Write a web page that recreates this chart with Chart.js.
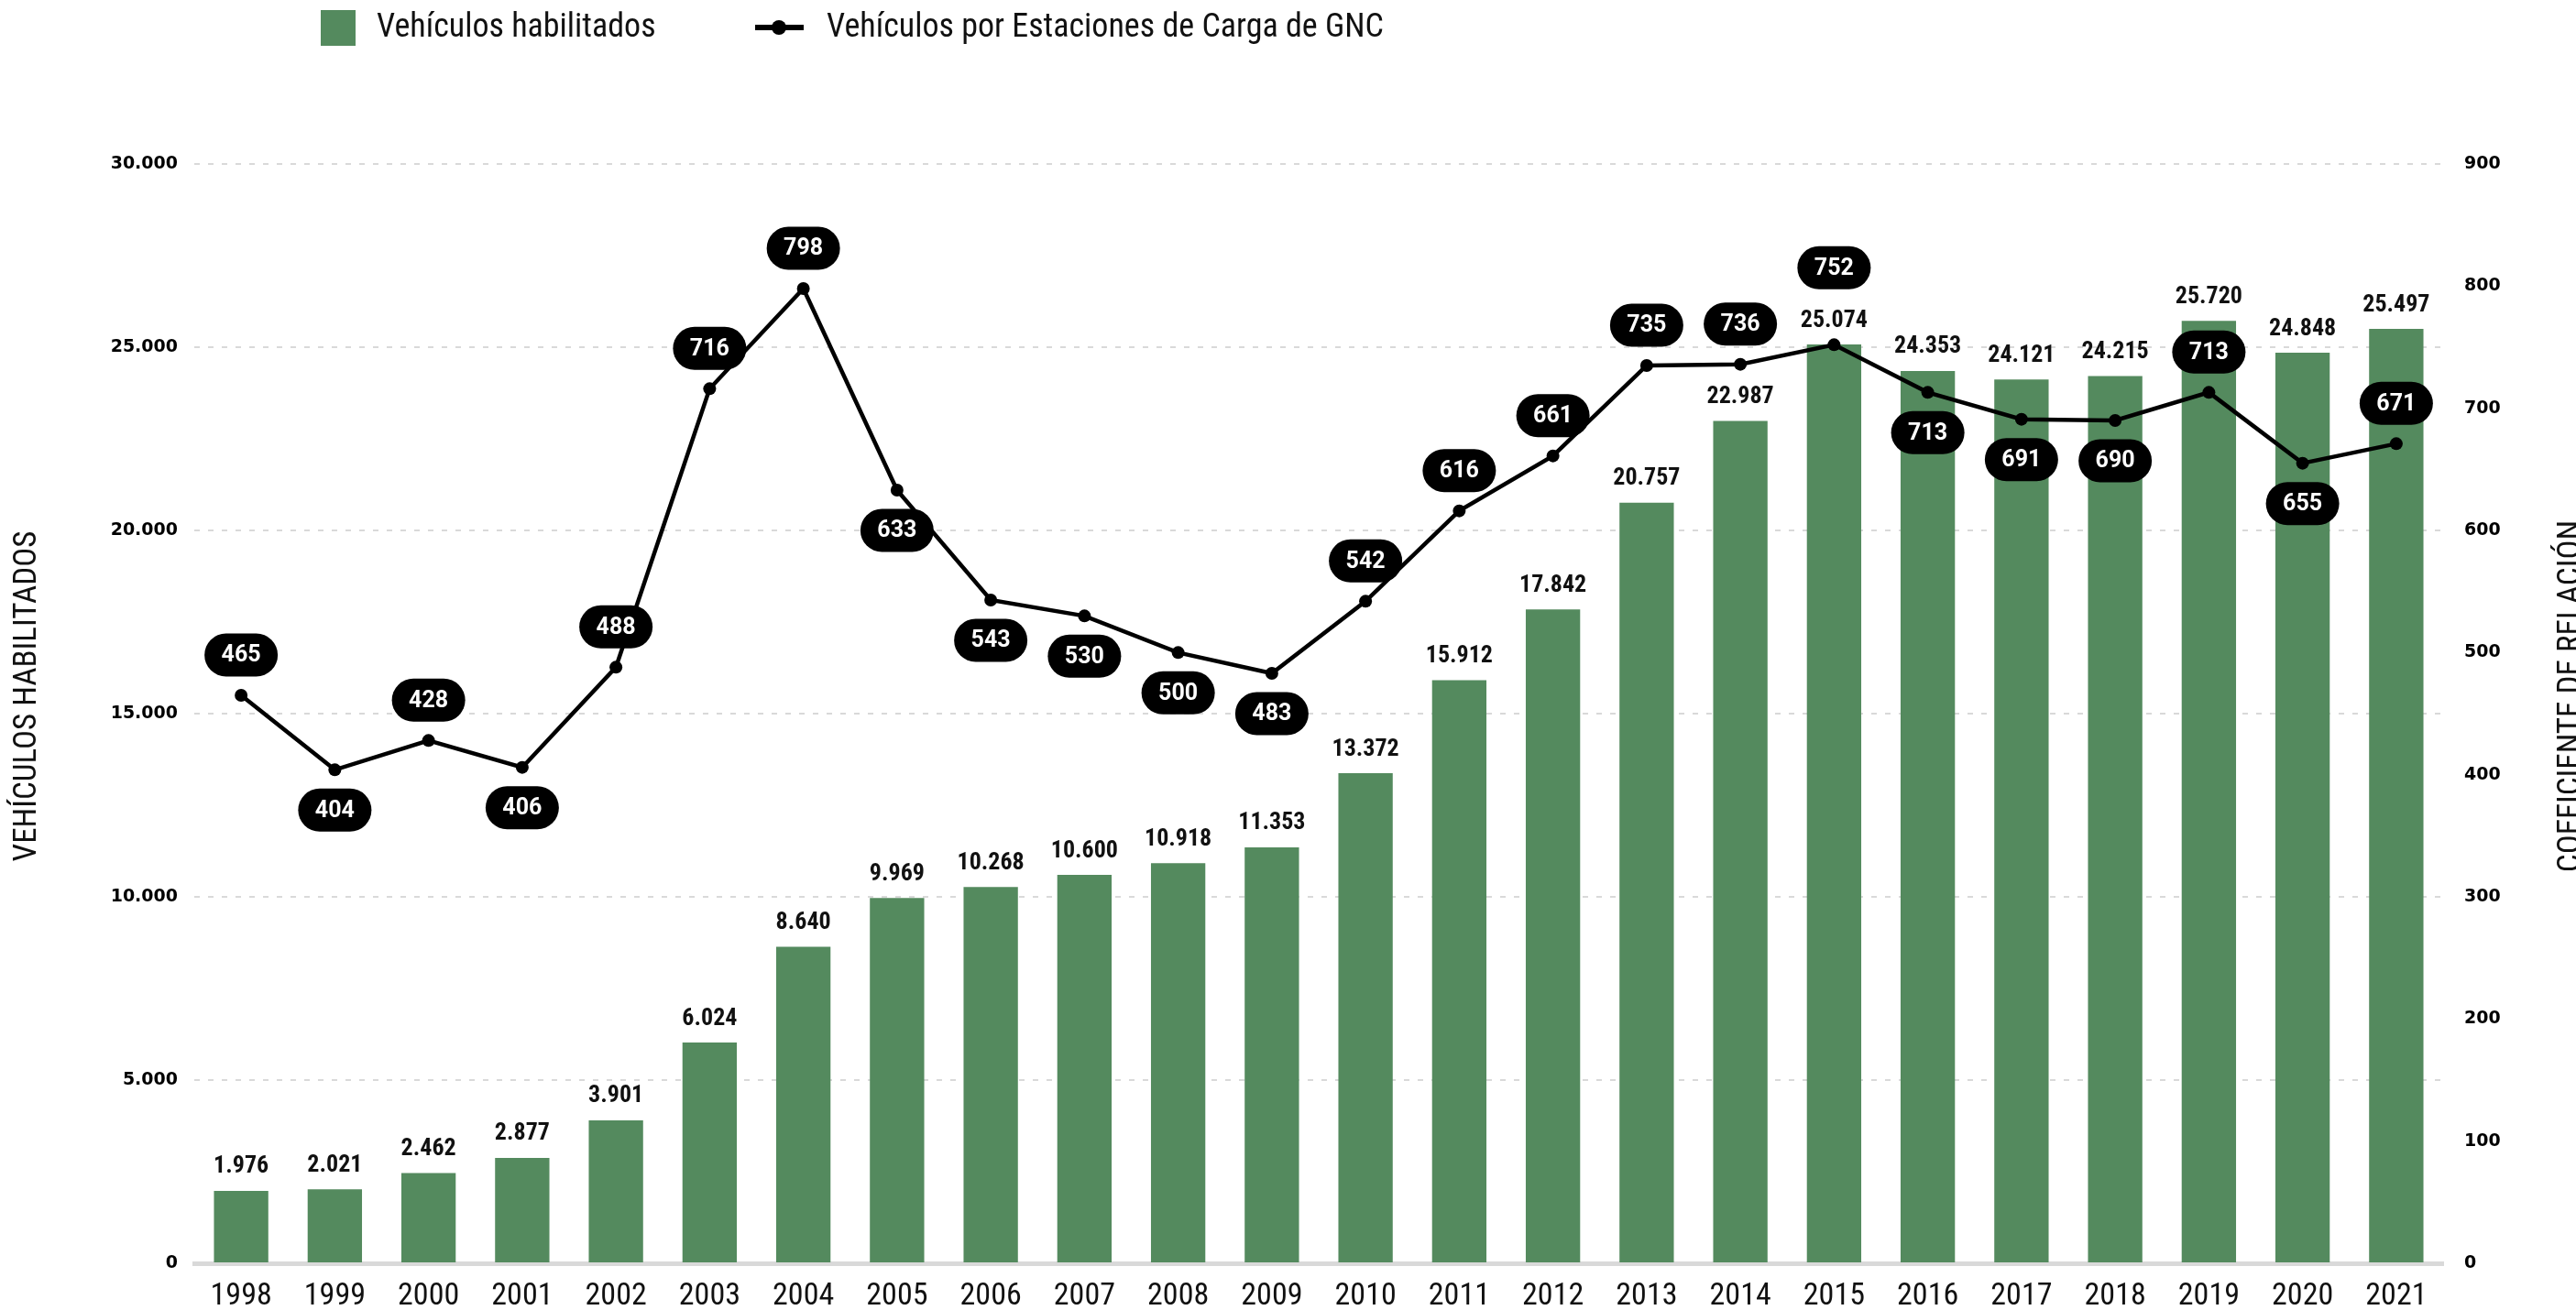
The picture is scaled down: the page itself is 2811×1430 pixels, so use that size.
<!DOCTYPE html>
<html>
<head>
<meta charset="utf-8">
<script src="https://cdn.jsdelivr.net/npm/chart.js@4.4.0/dist/chart.umd.min.js"></script>
<style>
  html, body { margin: 0; padding: 0; background: #fff; }
</style>
</head>
<body>
<canvas id="myChart" width="2811" height="1430"></canvas>
<script>
const years = ['1998', '1999', '2000', '2001', '2002', '2003', '2004', '2005', '2006', '2007', '2008', '2009',
    '2010', '2011', '2012', '2013', '2014', '2015', '2016', '2017', '2018', '2019', '2020', '2021'];
const vehicles = [1976, 2021, 2462, 2877, 3901, 6024, 8640, 9969, 10268, 10600, 10918, 11353,
    13372, 15912, 17842, 20757, 22987, 25074, 24353, 24121, 24215, 25720, 24848, 25497];
const ratio = [465, 404, 428, 406, 488, 716, 798, 633, 543, 530, 500, 483,
    542, 616, 661, 735, 736, 752, 713, 691, 690, 713, 655, 671];
const leftTicks = [0, 5000, 10000, 15000, 20000, 25000, 30000];
const rightTicks = [0, 100, 200, 300, 400, 500, 600, 700, 800, 900];

// pill label placement: negative = above the point, positive = below
const pillShift = [-44, 44, -44, 44, -44, -44, -44, 44, 44, 44, 44, 44,
    -44, -44, -44, -44, -44, -84, 44, 44, 44, -44, 44, -44];

const GREEN = '#548a5e';
const COND = '"Roboto Condensed", "Liberation Sans Narrow", "DejaVu Sans Condensed", sans-serif';

function fmt(v) {
    return String(v).replace(/\B(?=(\d{3})+(?!\d))/g, '.');
}

function roundRect(ctx, x, y, w, h, r) {
    ctx.beginPath();
    ctx.moveTo(x + r, y);
    ctx.lineTo(x + w - r, y);
    ctx.arc(x + w - r, y + r, r, -Math.PI / 2, Math.PI / 2);
    ctx.lineTo(x + r, y + h);
    ctx.arc(x + r, y + r, r, Math.PI / 2, Math.PI * 1.5);
    ctx.closePath();
}

// value labels on bars, drawn right after the bars (under the line)
const barLabels = {
    id: 'barLabels',
    afterDatasetDraw(chart, args) {
        if (args.index !== 0) return;
        const ctx = chart.ctx;
        ctx.save();
        ctx.font = 'bold 26px ' + COND;
        ctx.fillStyle = '#111';
        ctx.textAlign = 'center';
        ctx.textBaseline = 'middle';
        args.meta.data.forEach((bar, i) => {
            ctx.fillText(fmt(vehicles[i]), bar.x, bar.y - 26);
        });
        ctx.restore();
    }
};

// black pills for the line, legend and axis titles
const extras = {
    id: 'extras',
    afterDatasetsDraw(chart) {
        const ctx = chart.ctx;
        const meta = chart.getDatasetMeta(1);
        ctx.save();
        ctx.font = 'bold 25px Roboto, sans-serif';
        ctx.textAlign = 'center';
        ctx.textBaseline = 'middle';
        meta.data.forEach((pt, i) => {
            const cx = pt.x;
            const cy = pt.y + pillShift[i];
            const w = 80, h = 47;
            ctx.fillStyle = '#000';
            roundRect(ctx, cx - w / 2, cy - h / 2, w, h, h / 2);
            ctx.fill();
            ctx.fillStyle = '#fff';
            ctx.fillText(String(ratio[i]), cx, cy + 1);
        });
        ctx.restore();
    },
    afterDraw(chart) {
        const ctx = chart.ctx;
        ctx.save();
        // legend
        ctx.fillStyle = GREEN;
        ctx.fillRect(350, 11, 38, 39);
        ctx.fillStyle = '#111';
        ctx.font = '36px ' + COND;
        ctx.textBaseline = 'middle';
        ctx.textAlign = 'left';
        ctx.fillText('Vehículos habilitados', 411, 31);
        ctx.strokeStyle = '#000';
        ctx.lineWidth = 6;
        ctx.beginPath();
        ctx.moveTo(824, 30);
        ctx.lineTo(877, 30);
        ctx.stroke();
        ctx.beginPath();
        ctx.arc(850, 30, 8, 0, Math.PI * 2);
        ctx.fillStyle = '#000';
        ctx.fill();
        ctx.fillStyle = '#111';
        ctx.fillText('Vehículos por Estaciones de Carga de GNC', 902, 31);

        // axis titles
        const midY = 760;
        ctx.font = '35px ' + COND;
        ctx.textAlign = 'center';
        ctx.save();
        ctx.translate(30, midY);
        ctx.rotate(-Math.PI / 2);
        ctx.fillText('VEHÍCULOS HABILITADOS', 0, 0);
        ctx.restore();
        ctx.save();
        ctx.translate(2806, midY);
        ctx.rotate(-Math.PI / 2);
        ctx.fillText('COEFICIENTE DE RELACIÓN', 0, 0);
        ctx.restore();
        ctx.restore();
    }
};

const ctx = document.getElementById('myChart').getContext('2d');

const myChart = new Chart(ctx, {
    data: {
        labels: years,
        datasets: [
            {
                type: 'bar',
                label: 'Vehículos habilitados',
                data: vehicles,
                backgroundColor: GREEN,
                yAxisID: 'y',
                order: 1,
                barPercentage: 0.58,
                categoryPercentage: 1.0,
            },
            {
                type: 'line',
                label: 'Vehículos por Estaciones de Carga de GNC',
                data: ratio,
                borderColor: '#000',
                backgroundColor: '#000',
                borderWidth: 4.5,
                pointRadius: 7,
                pointBackgroundColor: '#000',
                pointBorderWidth: 0,
                tension: 0,
                yAxisID: 'y1',
                order: 0,
            },
        ],
    },
    options: {
        responsive: false,
        animation: false,
        layout: {
            padding: { top: 179, left: 60, right: 0, bottom: 0 },
        },
        plugins: {
            legend: { display: false },
            tooltip: { enabled: false },
        },
        scales: {
            x: {
                grid: { display: false },
                border: { display: true, color: '#d9d9d9', width: 5 },
                ticks: {
                    color: '#111',
                    font: { family: COND, size: 34 },
                    padding: 8,
                    maxRotation: 0,
                    autoSkip: false,
                },
                afterFit(scale) { scale.height = 51; },
            },
            y: {
                position: 'left',
                min: 0,
                max: leftTicks[leftTicks.length - 1],
                afterBuildTicks(scale) { scale.ticks = leftTicks.map(v => ({ value: v })); },
                grid: { color: '#d9d9d9', lineWidth: 2, drawTicks: false },
                border: { display: false, dash: [6, 9] },
                ticks: {
                    color: '#000',
                    font: { family: '"DejaVu Sans", sans-serif', weight: 'bold', size: 19 },
                    padding: 18,
                    callback: v => fmt(v),
                },
                afterFit(scale) { scale.width = 152; },
            },
            y1: {
                position: 'right',
                min: 0,
                max: rightTicks[rightTicks.length - 1],
                afterBuildTicks(scale) { scale.ticks = rightTicks.map(v => ({ value: v })); },
                grid: { display: false, drawTicks: false },
                border: { display: false },
                ticks: {
                    color: '#000',
                    font: { family: '"DejaVu Sans", sans-serif', weight: 'bold', size: 19 },
                    padding: 23,
                    callback: v => fmt(v),
                },
                afterFit(scale) { scale.width = 145; },
            },
        },
    },
    plugins: [barLabels, extras],
});
</script>
</body>
</html>
